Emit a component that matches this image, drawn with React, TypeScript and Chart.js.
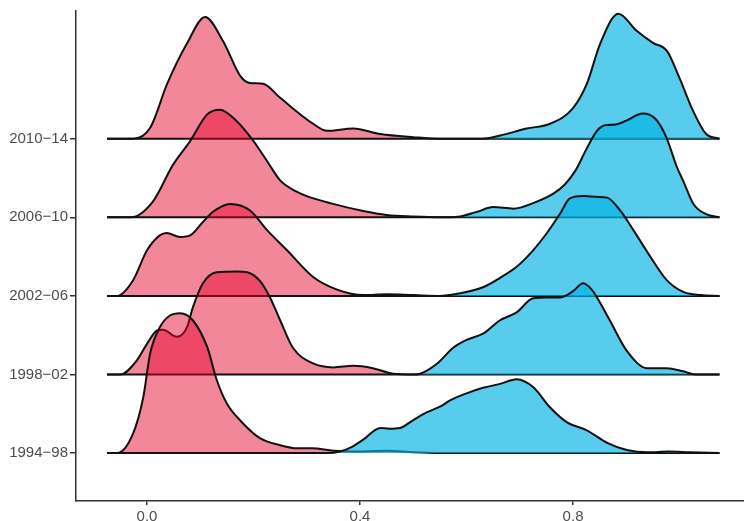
import React, { useEffect, useRef } from "react";
import { Chart, registerables } from "chart.js";

Chart.register(...registerables);

// Row labels (bottom to top)
const periods = ["1994−98", "1998−02", "2002−06", "2006−10", "2010−14"];
const xTickValues = [0, 0.4, 0.8];

// Ridge heights, in units of one row spacing: [x, height]
const red9498: number[][] = [[-0.075, 0], [-0.056, 0], [-0.026, 0.25], [-0.007, 0.71], [0.006, 1.27], [0.024, 1.6], [0.043, 1.75], [0.062, 1.78], [0.086, 1.69], [0.113, 1.35], [0.131, 0.93], [0.15, 0.63], [0.18, 0.38], [0.212, 0.19], [0.25, 0.1], [0.282, 0.06], [0.31, 0.06], [0.35, 0.03], [0.4, 0.02], [0.45, 0.03], [0.5, 0.01], [0.55, 0], [1.075, 0]];
const blue9498: number[][] = [[-0.075, 0], [0.34, 0], [0.362, 0.02], [0.385, 0.08], [0.406, 0.17], [0.438, 0.32], [0.455, 0.31], [0.475, 0.32], [0.5, 0.42], [0.526, 0.52], [0.55, 0.59], [0.569, 0.67], [0.6, 0.76], [0.631, 0.83], [0.663, 0.88], [0.694, 0.94], [0.725, 0.84], [0.757, 0.58], [0.789, 0.39], [0.826, 0.29], [0.864, 0.13], [0.901, 0.04], [0.94, 0.01], [0.98, 0.02], [1.02, 0.01], [1.075, 0]];

const red9802: number[][] = [[-0.075, 0], [-0.05, 0], [-0.019, 0.18], [0, 0.39], [0.019, 0.56], [0.03, 0.57], [0.056, 0.48], [0.075, 0.6], [0.086, 0.85], [0.105, 1.16], [0.131, 1.3], [0.169, 1.31], [0.188, 1.3], [0.212, 1.19], [0.231, 0.98], [0.25, 0.69], [0.274, 0.34], [0.312, 0.14], [0.35, 0.09], [0.387, 0.11], [0.424, 0.08], [0.462, 0.01], [0.5, 0], [1.075, 0]];
const blue9802: number[][] = [[-0.075, 0], [0.5, 0], [0.513, 0.01], [0.545, 0.14], [0.575, 0.34], [0.6, 0.44], [0.631, 0.52], [0.663, 0.69], [0.694, 0.79], [0.725, 0.97], [0.751, 0.98], [0.776, 0.98], [0.8, 1.06], [0.819, 1.16], [0.835, 1.08], [0.845, 0.98], [0.869, 0.69], [0.901, 0.3], [0.939, 0.08], [0.976, 0.08], [1.007, 0.04], [1.03, 0], [1.075, 0]];

const red0206: number[][] = [[-0.075, 0], [-0.056, 0], [-0.026, 0.2], [0, 0.58], [0.024, 0.77], [0.037, 0.8], [0.062, 0.75], [0.081, 0.77], [0.105, 0.94], [0.124, 1.07], [0.156, 1.17], [0.193, 1.09], [0.225, 0.84], [0.263, 0.58], [0.312, 0.24], [0.357, 0.08], [0.406, 0.01], [0.45, 0.02], [0.5, 0.01], [0.55, 0], [1.075, 0]];
const blue0206: number[][] = [[-0.075, 0], [0.55, 0], [0.569, 0.01], [0.631, 0.11], [0.663, 0.23], [0.694, 0.37], [0.725, 0.58], [0.751, 0.8], [0.776, 1.05], [0.794, 1.24], [0.82, 1.27], [0.845, 1.26], [0.864, 1.25], [0.888, 1.09], [0.913, 0.84], [0.945, 0.5], [0.976, 0.2], [1.007, 0.05], [1.04, 0.01], [1.075, 0]];

const red0610: number[][] = [[-0.075, 0], [-0.03, 0], [0.011, 0.2], [0.049, 0.67], [0.081, 0.97], [0.113, 1.31], [0.137, 1.37], [0.169, 1.22], [0.2, 0.97], [0.225, 0.72], [0.25, 0.47], [0.28, 0.33], [0.3, 0.27], [0.344, 0.18], [0.406, 0.08], [0.45, 0.03], [0.5, 0.01], [0.55, 0], [1.075, 0]];
const blue0610: number[][] = [[-0.075, 0], [0.57, 0], [0.588, 0.01], [0.62, 0.07], [0.65, 0.13], [0.688, 0.11], [0.725, 0.18], [0.763, 0.3], [0.785, 0.42], [0.805, 0.6], [0.826, 0.88], [0.845, 1.1], [0.86, 1.17], [0.88, 1.18], [0.9, 1.23], [0.931, 1.32], [0.955, 1.25], [0.975, 1.02], [0.995, 0.64], [1.007, 0.46], [1.026, 0.17], [1.05, 0.04], [1.075, 0]];

const red1014: number[][] = [[-0.075, 0], [-0.026, 0], [0.006, 0.14], [0.038, 0.7], [0.075, 1.21], [0.109, 1.55], [0.143, 1.24], [0.175, 0.8], [0.193, 0.71], [0.218, 0.7], [0.25, 0.52], [0.312, 0.19], [0.338, 0.1], [0.387, 0.13], [0.438, 0.06], [0.5, 0.02], [0.55, 0], [1.075, 0]];
const blue1014: number[][] = [[-0.075, 0], [0.63, 0], [0.663, 0.04], [0.713, 0.13], [0.757, 0.19], [0.8, 0.39], [0.826, 0.7], [0.851, 1.21], [0.885, 1.59], [0.92, 1.37], [0.95, 1.22], [0.976, 1.12], [1.0, 0.77], [1.025, 0.36], [1.05, 0.06], [1.075, 0]];

const redSeries = [red9498, red9802, red0206, red0610, red1014];
const blueSeries = [blue9498, blue9802, blue0206, blue0610, blue1014];

const RED_FILL = "rgba(230, 0, 40, 0.47)";
const BLUE_FILL = "rgba(0, 178, 226, 0.66)";

export default function App() {
  const ref = useRef<HTMLCanvasElement>(null);

  useEffect(() => {
    if (!ref.current) return;
    const datasets: any[] = [];
    // dataset 0 is drawn on top: lower rows first
    for (let i = 0; i < periods.length; i++) {
      const mk = (series: number[][], fill: string) => ({
        label: periods[i],
        data: series.map(([x, h]) => ({ x, y: i + h })),
        borderColor: "#111",
        borderWidth: 2,
        backgroundColor: fill,
        fill: { value: i },
        pointRadius: 0,
        cubicInterpolationMode: "monotone",
      });
      datasets.push(mk(blueSeries[i], BLUE_FILL));
      datasets.push(mk(redSeries[i], RED_FILL));
    }

    const tickFont = { family: "'Liberation Sans', Arial, sans-serif", size: 15 };

    const chart = new Chart(ref.current, {
      type: "line",
      data: { datasets },
      options: {
        animation: false,
        responsive: true,
        maintainAspectRatio: false,
        layout: { padding: { top: 10, left: 0, right: 0, bottom: 0 } },
        plugins: { legend: { display: false }, tooltip: { enabled: false } },
        scales: {
          x: {
            type: "linear",
            min: -0.1333,
            max: 1.121,
            afterBuildTicks: (scale: any) => {
              scale.ticks = xTickValues.map((v) => ({ value: v }));
            },
            afterFit: (scale: any) => {
              scale.height = 20;
            },
            border: { display: true, color: "#333", width: 1.5 },
            grid: { display: true, drawOnChartArea: false, drawTicks: true, tickLength: 4, color: "#333", lineWidth: 1.5 },
            ticks: {
              color: "#4d4d4d",
              font: tickFont,
              padding: 3,
              maxRotation: 0,
              callback: (v: any) => Number(v).toFixed(1),
            },
          },
          y: {
            type: "linear",
            min: -0.61,
            max: 5.625,
            afterBuildTicks: (scale: any) => {
              scale.ticks = periods.map((_, i) => ({ value: i }));
            },
            afterFit: (scale: any) => {
              scale.width = 76;
            },
            border: { display: true, color: "#333", width: 1.5 },
            grid: { display: true, drawOnChartArea: false, drawTicks: true, tickLength: 6, color: "#333", lineWidth: 1.5 },
            ticks: {
              color: "#4d4d4d",
              font: tickFont,
              padding: 2,
              callback: (v: any) => periods[Math.round(Number(v))] ?? "",
            },
          },
        },
      } as any,
    });
    return () => chart.destroy();
  }, []);

  return (
    <div style={{ position: "fixed", left: 0, top: 0, width: 744, height: 521, background: "#fff" }}>
      <canvas ref={ref} />
    </div>
  );
}
